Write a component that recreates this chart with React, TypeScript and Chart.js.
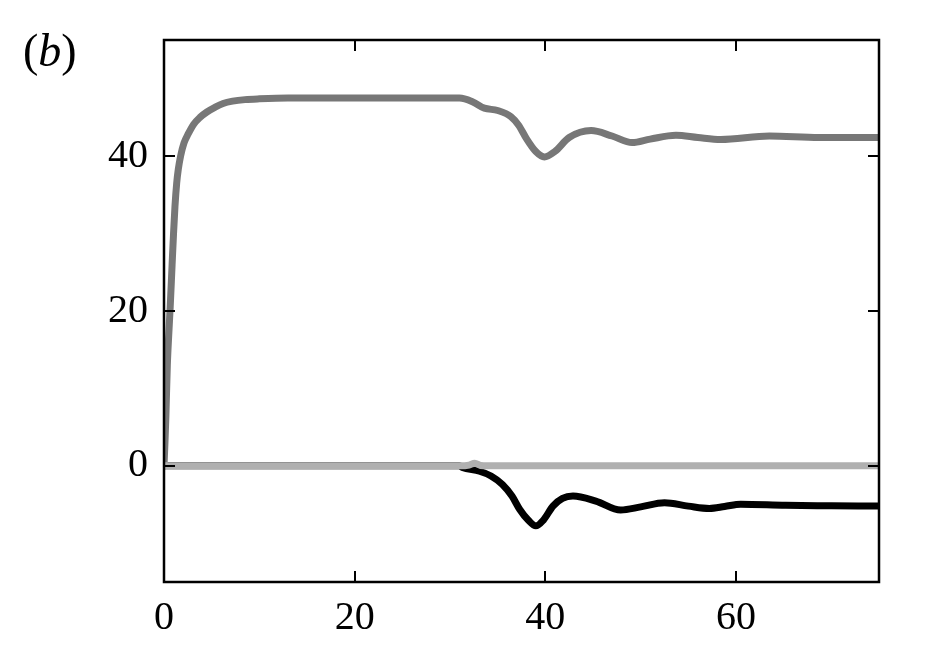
import React, { useEffect, useRef } from "react";
import { Chart, registerables } from "chart.js";

Chart.register(...registerables);

// Series data (time, value)
const timeA = [0, 0.1, 0.2, 0.35, 0.5, 0.65, 0.85, 1.0, 1.15, 1.33, 1.5, 1.74, 2.1, 2.55, 3.1, 3.77, 4.5, 5.34, 6.2, 7.2, 8.5, 10, 13, 31, 32.4, 33.6, 35, 36.4, 37.2, 38, 39, 39.9, 41, 42.5, 44.8, 47, 49.1, 51, 53.7, 56, 58.4, 63.5, 68.7, 75];
const valueA = [0, 3, 6.5, 13, 17, 20.5, 26, 30, 33.5, 36.5, 38.3, 40, 41.7, 42.9, 44.1, 45.0, 45.7, 46.3, 46.8, 47.1, 47.3, 47.4, 47.5, 47.5, 47.0, 46.2, 45.9, 45.1, 44.0, 42.3, 40.6, 39.9, 40.6, 42.4, 43.3, 42.6, 41.75, 42.2, 42.7, 42.4, 42.15, 42.6, 42.4, 42.4];

const timeB = [0, 31, 31.3, 33.1, 34.3, 35.5, 36.5, 37.3, 38.2, 39, 39.8, 40.8, 41.8, 42.9, 45.3, 47.9, 50, 52.5, 55, 57.2, 58.8, 60.5, 65.2, 70, 75];
const valueB = [0, 0, -0.2, -0.7, -1.3, -2.4, -3.9, -5.6, -7.0, -7.75, -7.0, -5.2, -4.2, -3.9, -4.55, -5.7, -5.3, -4.77, -5.2, -5.5, -5.25, -4.95, -5.1, -5.15, -5.2];

const timeC = [0, 31, 32, 32.6, 33.2, 34, 75];
const valueC = [0, 0, 0.1, 0.35, 0.05, 0, 0];

const xTicks = [0, 20, 40, 60];
const yTicks = [0, 20, 40];

const toPoints = (xs: number[], ys: number[]) => xs.map((x, i) => ({ x, y: ys[i] }));

const framePlugin = {
  id: "frameTicks",
  afterDraw(chart: any) {
    const { ctx, chartArea } = chart;
    const { left, right, top, bottom } = chartArea;
    const xs = chart.scales.x;
    const ys = chart.scales.y;
    const len = 11;
    ctx.save();
    ctx.strokeStyle = "#000";
    ctx.lineWidth = 2;
    ctx.beginPath();
    for (const v of xTicks) {
      const px = Math.round(xs.getPixelForValue(v));
      ctx.moveTo(px, bottom);
      ctx.lineTo(px, bottom - len);
      ctx.moveTo(px, top);
      ctx.lineTo(px, top + len);
    }
    for (const v of yTicks) {
      const py = Math.round(ys.getPixelForValue(v));
      ctx.moveTo(left, py);
      ctx.lineTo(left + len, py);
      ctx.moveTo(right, py);
      ctx.lineTo(right - len, py);
    }
    ctx.stroke();
    ctx.lineWidth = 2.5;
    ctx.strokeRect(left, top, right - left, bottom - top);
    ctx.restore();
  },
};

export default function App() {
  const ref = useRef<HTMLCanvasElement | null>(null);

  useEffect(() => {
    document.body.style.margin = "0";
    const canvas = ref.current;
    if (!canvas) return;
    const font = { family: "'Liberation Serif', 'Times New Roman', serif", size: 40 };
    const common = { borderWidth: 7, pointRadius: 0, cubicInterpolationMode: "monotone" as const, borderCapStyle: "round" as const, borderJoinStyle: "round" as const };
    const chart = new Chart(canvas, {
      type: "line",
      data: {
        datasets: [
          { data: toPoints(timeC, valueC), borderColor: "#b0b0b0", ...common },
          { data: toPoints(timeA, valueA), borderColor: "#777777", ...common },
          { data: toPoints(timeB, valueB), borderColor: "#000000", ...common },
        ],
      },
      options: {
        animation: false,
        responsive: false,
        maintainAspectRatio: false,
        layout: { padding: { left: 0, right: 53, top: 37, bottom: 0 } },
        plugins: { legend: { display: false }, tooltip: { enabled: false }, title: { display: false } },
        scales: {
          x: {
            type: "linear",
            min: 0,
            max: 75,
            grid: { display: false, drawTicks: false },
            border: { display: false },
            afterBuildTicks: (s: any) => {
              s.ticks = xTicks.map((v) => ({ value: v }));
            },
            afterFit: (s: any) => {
              s.height = 70;
            },
            ticks: { font, color: "#000", padding: 12, maxRotation: 0 },
          },
          y: {
            type: "linear",
            min: -15,
            max: 55,
            grid: { display: false, drawTicks: false },
            border: { display: false },
            afterBuildTicks: (s: any) => {
              s.ticks = yTicks.map((v) => ({ value: v }));
            },
            afterFit: (s: any) => {
              s.width = 164;
            },
            ticks: { font, color: "#000", padding: 16 },
          },
        },
      },
      plugins: [framePlugin],
    });
    return () => chart.destroy();
  }, []);

  return (
    <div style={{ position: "relative", width: 932, height: 652, background: "#fff" }}>
      <canvas ref={ref} width={932} height={652} style={{ display: "block" }} />
      <div
        style={{
          position: "absolute",
          left: 23,
          top: 27,
          fontFamily: "'Liberation Serif', 'Times New Roman', serif",
          fontSize: 46,
          lineHeight: "48px",
          color: "#000",
        }}
      >
        (<i>b</i>)
      </div>
    </div>
  );
}
